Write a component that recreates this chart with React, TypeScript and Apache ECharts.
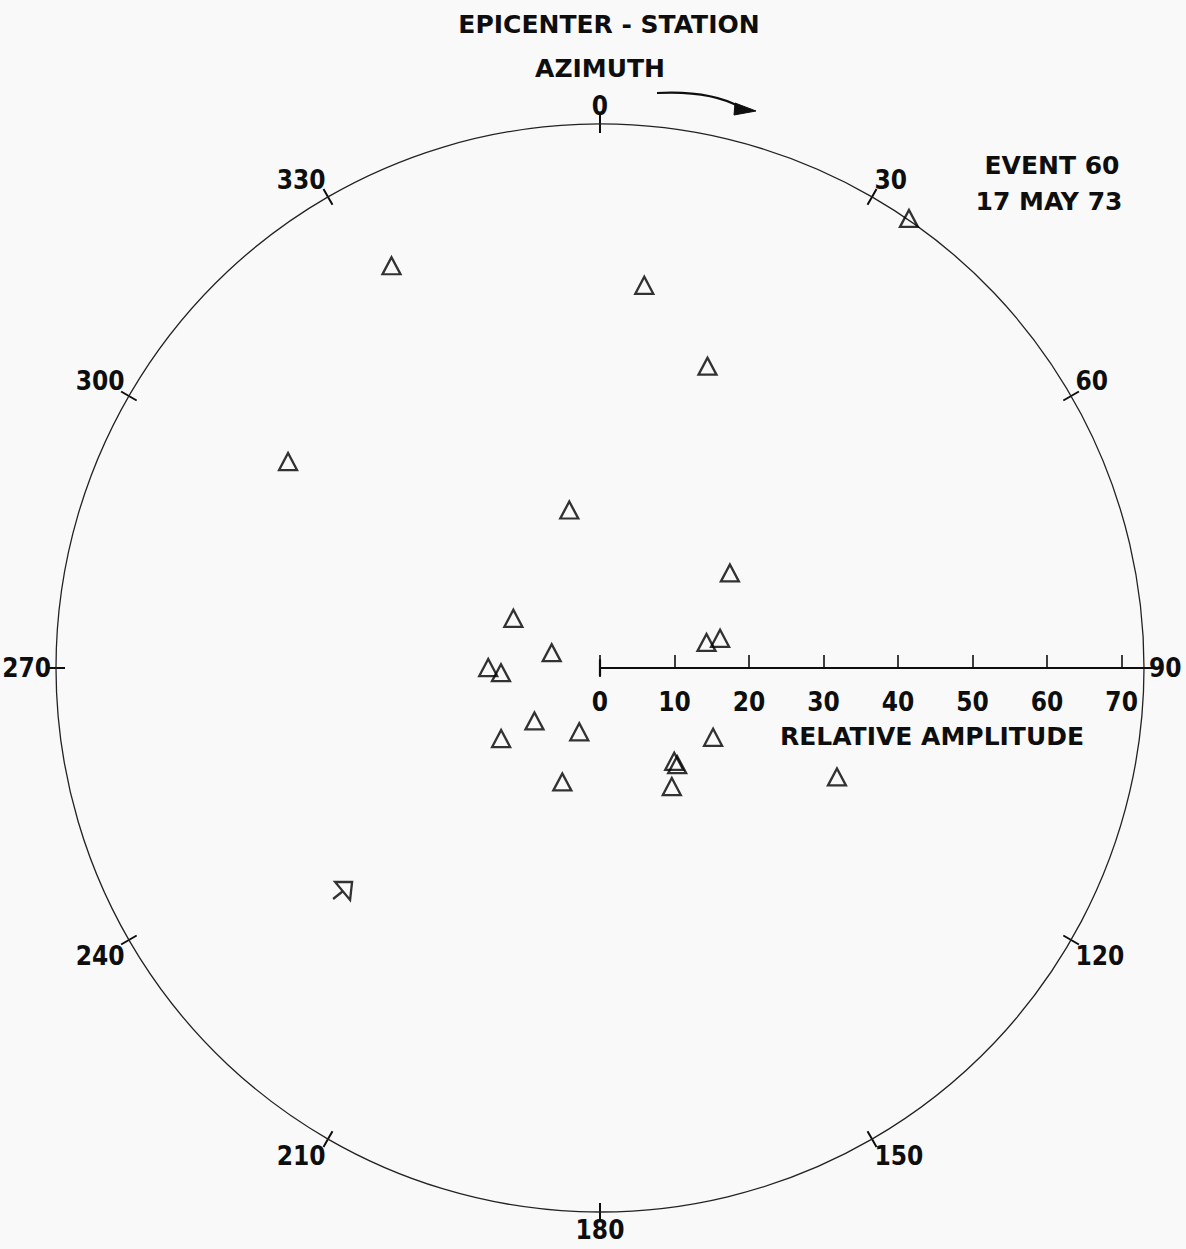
import React, { useEffect, useRef } from "react";
import * as echarts from "echarts";

// Station azimuth (degrees clockwise from north) and relative amplitude
const stationAzimuth = [
  34.5, 332.6, 6.6, 19.6, 303.5, 349.0, 53.8, 299.8, 76.5, 76.1, 287.6,
  270.2, 267.3, 231.1, 198.0, 234.5, 121.5, 141.5, 141.4, 198.3, 148.8, 114.7,
];
const relativeAmplitude = [
  73.2, 60.8, 51.7, 43.0, 50.2, 21.6, 21.6, 13.4, 14.7, 16.6, 6.8,
  15.0, 13.3, 11.3, 9.0, 16.3, 17.8, 16.0, 16.6, 16.1, 18.6, 35.0,
];
// Station drawn with the arrow marker
const arrowAzimuth = [229.1];
const arrowAmplitude = [45.7];

const amplitudeTicks = [0, 10, 20, 30, 40, 50, 60, 70];
const amplitudeMax = 73;
const azimuthStep = 30;

const INK = "#0e0e0e";
const NUM_FONT =
  "'DejaVu Sans Condensed', 'Liberation Sans Narrow', 'DejaVu Sans', sans-serif";
const WORD_FONT = "'DejaVu Sans', 'Liberation Sans', sans-serif";

const CX = 600;
const CY = 668;
const RADIUS = 544;

const ARROW_SYMBOL = "path://M2,0 L19,0 L17,18 Z M0,17 L10,9";

export default function App() {
  const ref = useRef<HTMLDivElement>(null);

  useEffect(() => {
    const chart = echarts.init(ref.current!, null, { renderer: "svg" });

    const triangles = stationAzimuth.map((a, i) => [relativeAmplitude[i], a]);
    const arrows = arrowAzimuth.map((a, i) => [arrowAmplitude[i], a]);

    const angleAxisBase = {
      type: "value",
      min: 0,
      max: 360,
      interval: azimuthStep,
      startAngle: 90,
      clockwise: true,
      splitLine: { show: false },
    };

    const wordText = (text: string, x: number, y: number, size = 25) => ({
      type: "text",
      x,
      y,
      style: {
        text,
        fill: INK,
        fontSize: size,
        fontWeight: "bold",
        fontFamily: WORD_FONT,
        align: "center",
        verticalAlign: "middle",
      },
    });

    chart.setOption({
      animation: false,
      backgroundColor: "#f9f9f9",
      polar: [
        { center: [CX, CY], radius: RADIUS },
        { center: [CX, CY], radius: RADIUS },
      ],
      angleAxis: [
        {
          ...angleAxisBase,
          polarIndex: 0,
          axisLine: { show: true, lineStyle: { color: "#222", width: 1.3 } },
          axisTick: { show: true, length: 9, lineStyle: { color: INK, width: 2 } },
          axisLabel: {
            show: true,
            margin: 5,
            color: INK,
            fontSize: 26,
            fontWeight: "bold",
            fontFamily: NUM_FONT,
          },
        },
        {
          ...angleAxisBase,
          polarIndex: 1,
          axisLine: { show: false },
          axisTick: { show: true, inside: true, length: 9, lineStyle: { color: INK, width: 2 } },
          axisLabel: { show: false },
        },
      ],
      radiusAxis: [
        { polarIndex: 0, type: "value", min: 0, max: amplitudeMax, show: false },
        { polarIndex: 1, type: "value", min: 0, max: amplitudeMax, show: false },
      ],
      grid: {
        left: CX,
        top: CY - 8,
        width: RADIUS,
        height: 16,
        containLabel: false,
      },
      xAxis: {
        type: "value",
        min: 0,
        max: amplitudeMax,
        axisLine: { show: true, onZero: true, lineStyle: { color: INK, width: 2.2 } },
        axisTick: {
          show: true,
          inside: true,
          length: 13,
          customValues: amplitudeTicks,
          lineStyle: { color: INK, width: 1.6 },
        },
        axisLabel: {
          show: true,
          margin: 13,
          customValues: amplitudeTicks,
          color: INK,
          fontSize: 26,
          fontWeight: "bold",
          fontFamily: NUM_FONT,
        },
        splitLine: { show: false },
      },
      yAxis: {
        type: "value",
        min: -1,
        max: 1,
        axisLine: { show: true, lineStyle: { color: INK, width: 2.2 } },
        axisTick: { show: false },
        axisLabel: { show: false },
        splitLine: { show: false },
      },
      series: [
        {
          type: "scatter",
          coordinateSystem: "polar",
          polarIndex: 0,
          clip: false,
          symbol: "triangle",
          symbolSize: [18, 17],
          itemStyle: { color: "transparent", borderColor: "#000", borderWidth: 2.3 },
          data: triangles,
          z: 5,
        },
        {
          type: "scatter",
          coordinateSystem: "polar",
          polarIndex: 0,
          clip: false,
          symbol: ARROW_SYMBOL,
          symbolKeepAspect: true,
          symbolSize: 19,
          itemStyle: { color: "transparent", borderColor: "#000", borderWidth: 2.3 },
          data: arrows,
          z: 5,
        },
      ],
      graphic: [
        wordText("EPICENTER - STATION", 609, 24),
        wordText("AZIMUTH", 600, 68),
        wordText("EVENT 60", 1052, 165),
        wordText("17 MAY 73", 1049, 201),
        wordText("RELATIVE AMPLITUDE", 932, 736),
        {
          type: "bezierCurve",
          shape: { x1: 657, y1: 93, cpx1: 695, cpy1: 91, cpx2: 722, cpy2: 97, x2: 740, y2: 107 },
          style: { stroke: INK, lineWidth: 2.2, fill: "none" },
        },
        {
          type: "polygon",
          shape: { points: [[735, 103], [756, 111], [734, 115]] },
          style: { fill: INK, stroke: INK, lineWidth: 1 },
        },
      ],
    });

    return () => chart.dispose();
  }, []);

  return (
    <div
      ref={ref}
      style={{ position: "fixed", left: 0, top: 0, width: 1186, height: 1249 }}
    />
  );
}
